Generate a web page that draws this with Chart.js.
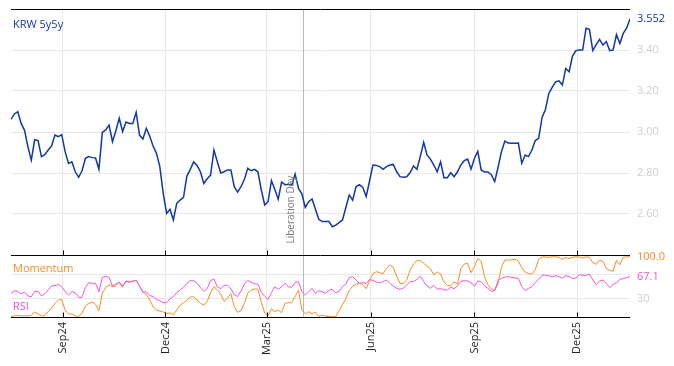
<!DOCTYPE html>
<html>
<head>
<meta charset="utf-8">
<script src="https://cdn.jsdelivr.net/npm/chart.js@4.4.1/dist/chart.umd.min.js"></script>
<style>
  html, body { margin: 0; padding: 0; background: #fff; }
</style>
</head>
<body>
<canvas id="chart" width="674" height="366"></canvas>
<script>
// series sampled every 3 calendar days from the start date
const startDate = '2024-07-17';
const stepDays = 3;

const krw = [
  3.062, 3.088, 3.099, 3.042, 3.008, 2.928, 2.863, 2.962, 2.958, 2.880,
  2.889, 2.912, 2.932, 2.985, 2.977, 2.987, 2.904, 2.847, 2.855, 2.806,
  2.779, 2.811, 2.872, 2.880, 2.875, 2.873, 2.818, 2.998, 3.010, 3.034,
  2.953, 3.006, 3.067, 3.002, 3.049, 3.042, 3.042, 3.096, 2.985, 2.966,
  3.018, 2.980, 2.932, 2.896, 2.831, 2.701, 2.603, 2.623, 2.571, 2.652,
  2.668, 2.681, 2.785, 2.818, 2.854, 2.837, 2.806, 2.749, 2.772, 2.790,
  2.912, 2.855, 2.800, 2.806, 2.815, 2.815, 2.733, 2.707, 2.733, 2.769,
  2.823, 2.811, 2.818, 2.806, 2.717, 2.644, 2.660, 2.763, 2.720, 2.672,
  2.756, 2.743, 2.745, 2.740, 2.795, 2.725, 2.698, 2.632, 2.660, 2.673,
  2.623, 2.574, 2.563, 2.563, 2.563, 2.538, 2.546, 2.558, 2.571, 2.632,
  2.693, 2.668, 2.733, 2.743, 2.730, 2.685, 2.761, 2.839, 2.837, 2.831,
  2.818, 2.831, 2.839, 2.842, 2.806, 2.782, 2.779, 2.782, 2.802, 2.834,
  2.818, 2.880, 2.950, 2.888, 2.868, 2.839, 2.806, 2.855, 2.777, 2.777,
  2.801, 2.782, 2.806, 2.840, 2.860, 2.868, 2.819, 2.871, 2.905, 2.815,
  2.805, 2.805, 2.792, 2.758, 2.828, 2.904, 2.956, 2.946, 2.945, 2.945,
  2.946, 2.847, 2.888, 2.880, 2.912, 2.958, 2.969, 3.071, 3.110, 3.188,
  3.218, 3.245, 3.250, 3.229, 3.310, 3.294, 3.370, 3.397, 3.400, 3.400,
  3.506, 3.501, 3.397, 3.426, 3.452, 3.424, 3.441, 3.397, 3.400, 3.475,
  3.432, 3.481, 3.506, 3.552
];

const momentum = [
  0.6, 1.7, 2.8, 1.7, 2.2, 1.7, 2.8, 8.3, 5.5, 1.7,
  2.2, 9.4, 14.4, 22.7, 28.2, 28.8, 11.6, 5.0, 5.0, 1.7,
  0.6, 6.1, 18.3, 22.7, 24.9, 21.0, 10.5, 39.9, 48.7, 53.2,
  50.4, 51.5, 58.1, 49.3, 59.8, 58.1, 59.8, 60.9, 51.5, 41.0,
  38.2, 28.2, 17.2, 11.1, 10.0, 8.3, 6.1, 6.6, 3.3, 11.6,
  19.9, 23.8, 28.2, 33.2, 33.8, 28.2, 22.7, 19.9, 25.5, 40.4,
  50.4, 44.9, 38.2, 26.0, 31.0, 38.8, 17.2, 7.8, 10.5, 22.7,
  39.9, 44.3, 46.5, 46.0, 24.4, 6.6, 2.2, 13.8, 8.9, 11.6,
  7.2, 22.7, 23.8, 23.8, 33.8, 44.3, 11.6, 5.5, 8.9, 5.0,
  8.3, 0.6, 3.3, 1.1, 1.1, 0.6, 0.6, 10.5, 20.5, 30.5,
  44.3, 50.9, 54.8, 55.9, 53.7, 47.1, 60.4, 71.4, 75.3, 73.6,
  72.0, 80.8, 86.4, 82.5, 68.1, 55.9, 55.9, 61.5, 78.1, 88.0,
  93.6, 93.6, 89.2, 84.7, 80.3, 69.8, 74.8, 71.4, 58.1, 52.6,
  51.5, 58.7, 54.8, 80.3, 88.0, 89.1, 73.6, 83.6, 96.9, 93.0,
  67.0, 53.7, 46.0, 44.3, 56.5, 82.5, 94.7, 94.7, 94.7, 96.3,
  93.0, 81.9, 74.8, 72.0, 71.4, 79.2, 95.8, 99.7, 99.7, 99.1,
  100, 100, 99.1, 95.8, 99.1, 96.9, 99.1, 100, 99.7, 98.0,
  100, 99.1, 90.3, 87.5, 94.1, 92.5, 80.8, 77.5, 75.9, 94.1,
  86.9, 99.1, 100, 100
];

const rsi = [
  39.3, 43.7, 42.6, 38.2, 41.5, 34.9, 33.8, 42.6, 42.6, 34.9,
  38.8, 44.9, 51.5, 52.0, 54.3, 50.4, 42.1, 36.5, 42.1, 40.4,
  32.7, 32.7, 49.3, 57.0, 55.9, 55.9, 42.1, 65.9, 67.6, 65.9,
  51.5, 54.8, 58.1, 51.5, 59.8, 57.6, 59.2, 60.9, 51.5, 41.0,
  42.1, 36.0, 33.8, 29.3, 27.1, 23.8, 23.8, 29.9, 33.8, 40.4,
  44.9, 49.3, 55.9, 60.4, 60.4, 55.9, 49.3, 42.6, 47.1, 60.4,
  63.1, 50.4, 47.1, 52.6, 52.6, 47.1, 37.1, 33.8, 43.2, 54.8,
  60.9, 57.6, 55.4, 54.3, 41.0, 34.3, 29.3, 40.4, 50.4, 46.0,
  50.4, 55.9, 50.4, 49.3, 57.6, 58.7, 42.1, 36.5, 42.1, 47.6,
  38.8, 43.7, 42.1, 39.3, 44.3, 46.0, 40.4, 42.6, 50.4, 54.8,
  65.3, 67.0, 61.5, 55.9, 57.0, 55.9, 62.0, 60.9, 58.1, 56.5,
  59.2, 61.5, 55.9, 51.5, 47.6, 46.0, 48.2, 53.2, 58.7, 58.7,
  62.6, 67.6, 58.7, 51.5, 47.6, 52.6, 46.0, 47.6, 44.9, 44.9,
  49.3, 47.1, 51.5, 59.2, 60.4, 59.8, 57.0, 51.5, 59.8, 58.7,
  51.5, 47.6, 42.6, 43.7, 60.4, 64.2, 66.4, 67.0, 65.9, 64.8,
  64.2, 50.4, 43.7, 47.6, 50.4, 57.6, 62.6, 69.2, 69.8, 68.7,
  66.4, 68.9, 67.0, 64.8, 68.7, 67.0, 64.2, 64.8, 70.3, 69.2,
  69.2, 71.4, 61.5, 53.7, 59.8, 61.5, 55.4, 48.7, 54.3, 56.5,
  62.6, 63.7, 65.3, 67.1
];

const tickDates = ['2024-09-01', '2024-12-01', '2025-03-01', '2025-06-01', '2025-09-01', '2025-12-01'];
const tickLabels = ['Sep24', 'Dec24', 'Mar25', 'Jun25', 'Sep25', 'Dec25'];
const mainTicks = [2.6, 2.8, 3.0, 3.2, 3.4];
const rsiLevels = [30, 70];
const eventDate = '2025-04-02';
const eventLabel = 'Liberation Day';

const blue = '#1238a6';
const orange = '#ff8b1f';
const pink = '#f552dc';
const faint = '#cfcfcf';
const gridColor = '#e8e8e8';
const font = 'Open Sans';

function dayOf(d) {
  return (Date.parse(d) - Date.parse(startDate)) / 86400000;
}

function toPoints(values) {
  return values.map((v, i) => ({ x: i * stepDays, y: v }));
}

// keep the scales from pushing the plot area around
function noPad(s) {
  s.paddingTop = 0;
  s.paddingBottom = 0;
  s.paddingLeft = 0;
  s.paddingRight = 0;
}

const lastKrw = krw[krw.length - 1];
const lastMom = momentum[momentum.length - 1];
const lastRsi = rsi[rsi.length - 1];

const overlay = {
  id: 'overlay',
  beforeDatasetsDraw(chart) {
    const { ctx, chartArea } = chart;
    const x = Math.round(chart.scales.x.getPixelForValue(dayOf(eventDate))) + 0.5;
    ctx.save();
    ctx.strokeStyle = '#b9b9b9';
    ctx.lineWidth = 1;
    ctx.beginPath();
    ctx.moveTo(x, chartArea.top);
    ctx.lineTo(x, chartArea.bottom);
    ctx.stroke();
    ctx.restore();
  },
  afterDraw(chart) {
    const { ctx, chartArea, scales } = chart;
    const split = Math.round(scales.y.bottom) + 0.5;
    const bottom = Math.round(chartArea.bottom) + 0.5;
    const top = Math.round(chartArea.top) + 0.5;
    ctx.save();
    ctx.strokeStyle = '#000';
    ctx.lineWidth = 1;
    ctx.beginPath();
    [top, split, bottom].forEach(y => {
      ctx.moveTo(chartArea.left, y);
      ctx.lineTo(chartArea.right, y);
    });
    tickDates.forEach(d => {
      const x = Math.round(scales.x.getPixelForValue(dayOf(d))) + 0.5;
      ctx.moveTo(x, split);
      ctx.lineTo(x, split - 5);
      ctx.moveTo(x, bottom);
      ctx.lineTo(x, bottom - 5);
    });
    ctx.stroke();

    ctx.font = '11px "' + font + '"';
    ctx.textBaseline = 'middle';
    ctx.textAlign = 'left';
    ctx.fillStyle = blue;
    ctx.fillText('KRW 5y5y', chartArea.left + 2, chartArea.top + 16);
    ctx.fillStyle = orange;
    ctx.fillText('Momentum', chartArea.left + 2, split + 13);
    ctx.fillStyle = pink;
    ctx.fillText('RSI', chartArea.left + 2, bottom - 11);

    const ex = scales.x.getPixelForValue(dayOf(eventDate));
    ctx.translate(ex - 12, split - 12);
    ctx.rotate(-Math.PI / 2);
    ctx.font = '10px "' + font + '"';
    ctx.fillStyle = '#7a7a7a';
    ctx.fillText(eventLabel, 0, 0);
    ctx.restore();
  }
};

new Chart(document.getElementById('chart'), {
  type: 'line',
  data: {
    datasets: [
      { label: 'KRW 5y5y', data: toPoints(krw), yAxisID: 'y', borderColor: blue, borderWidth: 1.5 },
      { label: 'RSI', data: toPoints(rsi), yAxisID: 'y2', borderColor: pink, borderWidth: 1 },
      { label: 'Momentum', data: toPoints(momentum), yAxisID: 'y2', borderColor: orange, borderWidth: 1 }
    ]
  },
  options: {
    responsive: false,
    animation: false,
    events: [],
    layout: { padding: { left: 11, top: 9, right: 0, bottom: 0 } },
    elements: { point: { radius: 0 }, line: { tension: 0 } },
    plugins: { legend: { display: false }, tooltip: { enabled: false } },
    scales: {
      x: {
        type: 'linear',
        min: 0,
        max: (krw.length - 1) * stepDays,
        afterBuildTicks: s => { s.ticks = tickDates.map(d => ({ value: dayOf(d) })); },
        afterFit: s => { s.height = 49; noPad(s); },
        ticks: {
          autoSkip: false,
          maxRotation: 90,
          minRotation: 90,
          padding: 5,
          color: '#222',
          font: { family: font, size: 11 },
          callback: (v, i) => tickLabels[i]
        },
        grid: { color: gridColor, drawTicks: false },
        border: { display: false }
      },
      y: {
        type: 'linear',
        position: 'right',
        stack: 'panels',
        stackWeight: 246,
        min: 2.4,
        max: 3.6,
        afterBuildTicks: s => { s.ticks = mainTicks.concat([lastKrw]).map(v => ({ value: v })); },
        afterFit: s => { s.width = 44; noPad(s); },
        ticks: {
          autoSkip: false,
          padding: 7,
          font: { family: font, size: 11 },
          color: c => c.tick && c.tick.value === lastKrw ? blue : faint,
          callback: v => v === lastKrw ? v.toFixed(3) : v.toFixed(2)
        },
        grid: { color: c => c.tick && c.tick.value === lastKrw ? 'rgba(0,0,0,0)' : gridColor, drawTicks: false },
        border: { display: false }
      },
      y2: {
        type: 'linear',
        position: 'right',
        stack: 'panels',
        stackWeight: 62,
        min: 0,
        max: 103,
        afterBuildTicks: s => { s.ticks = rsiLevels.concat([lastRsi, lastMom]).map(v => ({ value: v })); },
        afterFit: s => { s.width = 44; noPad(s); },
        ticks: {
          autoSkip: false,
          padding: 7,
          font: { family: font, size: 11 },
          color: c => {
            if (!c.tick) return faint;
            if (c.tick.value === lastMom) return orange;
            if (c.tick.value === lastRsi) return pink;
            return faint;
          },
          callback: v => {
            if (v === lastMom) return v.toFixed(1);
            if (v === lastRsi) return v.toFixed(1);
            return v === 30 ? '30' : '';
          }
        },
        grid: { color: c => c.tick && rsiLevels.includes(c.tick.value) ? gridColor : 'rgba(0,0,0,0)', drawTicks: false },
        border: { display: false }
      }
    }
  },
  plugins: [overlay]
});
</script>
</body>
</html>
